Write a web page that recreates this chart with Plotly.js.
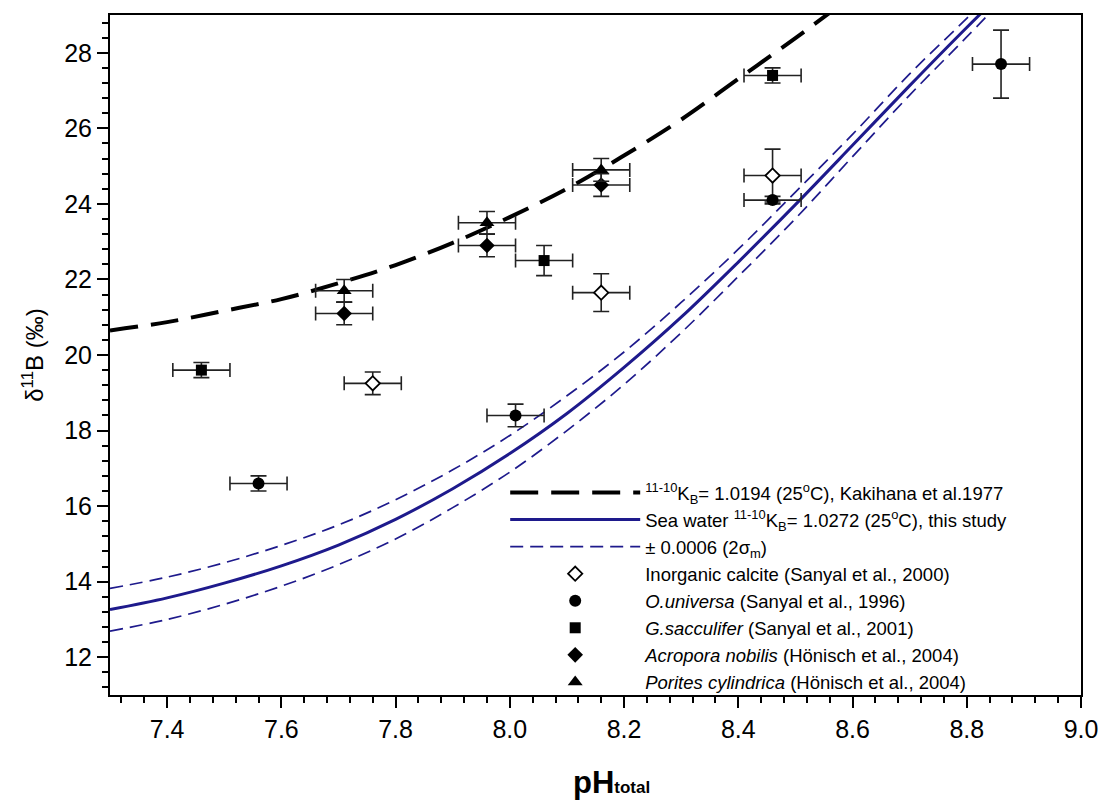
<!DOCTYPE html>
<html>
<head>
<meta charset="utf-8">
<script src="https://cdn.plot.ly/plotly-3.0.1.min.js"></script>
<style>html,body{margin:0;padding:0;background:#fff;}#chart{width:1102px;height:802px;}</style>
</head>
<body>
<div id="chart"></div>
<script>
// ---- data ----
const curvePH = [7.3,7.4,7.5,7.6,7.7,7.8,7.9,8.0,8.1,8.2,8.3,8.4,8.5,8.6,8.7,8.8,8.9];
const kakihanaPH = [7.3,7.4,7.5,7.6,7.7,7.8,7.9,8.0,8.1,8.2,8.3,8.4,8.5,8.6];
const kakihanaD11B = [20.65,20.87,21.17,21.48,21.90,22.38,22.97,23.65,24.40,25.28,26.23,27.31,28.39,29.51];
const seawaterD11B = [13.26,13.57,13.96,14.42,14.97,15.65,16.46,17.39,18.45,19.67,21.00,22.46,23.98,25.55,27.13,28.67,30.15];
const upperD11B = [13.82,14.12,14.50,14.96,15.50,16.17,16.96,17.87,18.92,20.08,21.39,22.80,24.31,25.84,27.44,28.91,30.40];
const lowerD11B = [12.69,13.00,13.40,13.88,14.45,15.13,15.96,16.90,18.00,19.22,20.59,22.08,23.61,25.25,26.88,28.42,29.99];

const calcitePH = [7.76, 8.16, 8.46];
const calciteD11B = [19.25, 21.65, 24.75];
const calciteYErr = [0.3, 0.5, 0.7];
const calciteXErr = [0.05, 0.05, 0.05];

const universaPH = [7.56, 8.01, 8.46, 8.86];
const universaD11B = [16.6, 18.4, 24.1, 27.7];
const universaYErr = [0.2, 0.3, 0.1, 0.9];
const universaXErr = [0.05, 0.05, 0.05, 0.05];

const sacculiferPH = [7.46, 8.06, 8.46];
const sacculiferD11B = [19.6, 22.5, 27.4];
const sacculiferYErr = [0.2, 0.4, 0.2];
const sacculiferXErr = [0.05, 0.05, 0.05];

const acroporaPH = [7.71, 7.96, 8.16];
const acroporaD11B = [21.1, 22.9, 24.5];
const acroporaYErr = [0.3, 0.3, 0.3];
const acroporaXErr = [0.05, 0.05, 0.05];

const poritesPH = [7.71, 7.96, 8.16];
const poritesD11B = [21.7, 23.5, 24.9];
const poritesYErr = [0.3, 0.3, 0.3];
const poritesXErr = [0.05, 0.05, 0.05];

const legendNames = [
  '<sup>11-10</sup>K<sub>B</sub>= 1.0194 (25<sup>o</sup>C), Kakihana et al.1977',
  'Sea water <sup>11-10</sup>K<sub>B</sub>= 1.0272 (25<sup>o</sup>C), this study',
  '± 0.0006 (2σ<sub>m</sub>)',
  'Inorganic calcite (Sanyal et al., 2000)',
  '<i>O.universa</i> (Sanyal et al., 1996)',
  '<i>G.sacculifer</i> (Sanyal et al., 2001)',
  '<i>Acropora nobilis</i> (Hönisch et al., 2004)',
  '<i>Porites cylindrica</i> (Hönisch et al., 2004)'
];

// ---- styling ----
const NAVY = '#1e1a8c';
const FONT = 'Liberation Sans, Arial, sans-serif';
function errs(ye, xe) {
  return {
    error_y: {type: 'data', array: ye, visible: true, color: '#222', thickness: 1.6, width: 8},
    error_x: {type: 'data', array: xe, visible: true, color: '#222', thickness: 1.6, width: 7}
  };
}

const traces = [
  {x: kakihanaPH, y: kakihanaD11B, mode: 'lines', name: legendNames[0], line: {color: '#000', width: 4, dash: '28px,13px', shape: 'spline'}},
  {x: curvePH, y: seawaterD11B, mode: 'lines', name: legendNames[1], line: {color: NAVY, width: 3, shape: 'spline'}},
  {x: curvePH, y: upperD11B, mode: 'lines', name: legendNames[2], legendgroup: 'sig', line: {color: NAVY, width: 1.7, dash: '13px,7px', shape: 'spline'}},
  {x: curvePH, y: lowerD11B, mode: 'lines', name: legendNames[2], legendgroup: 'sig', showlegend: false, line: {color: NAVY, width: 1.7, dash: '13px,7px', shape: 'spline'}},
  Object.assign({x: calcitePH, y: calciteD11B, mode: 'markers', name: legendNames[3],
    marker: {symbol: 'diamond', size: 11, color: '#fff', line: {color: '#000', width: 1.8}}}, errs(calciteYErr, calciteXErr)),
  Object.assign({x: universaPH, y: universaD11B, mode: 'markers', name: legendNames[4],
    marker: {symbol: 'circle', size: 12, color: '#000'}}, errs(universaYErr, universaXErr)),
  Object.assign({x: sacculiferPH, y: sacculiferD11B, mode: 'markers', name: legendNames[5],
    marker: {symbol: 'square', size: 11, color: '#000'}}, errs(sacculiferYErr, sacculiferXErr)),
  Object.assign({x: acroporaPH, y: acroporaD11B, mode: 'markers', name: legendNames[6],
    marker: {symbol: 'diamond', size: 12, color: '#000'}}, errs(acroporaYErr, acroporaXErr)),
  Object.assign({x: poritesPH, y: poritesD11B, mode: 'markers', name: legendNames[7],
    marker: {symbol: 'triangle-up', size: 13, color: '#000'}}, errs(poritesYErr, poritesXErr))
];

const layout = {
  width: 1102, height: 802,
  margin: {l: 110, r: 21, t: 15, b: 107},
  paper_bgcolor: '#fff', plot_bgcolor: '#fff',
  font: {family: FONT, color: '#000'},
  showlegend: true,
  legend: {
    x: 0.407, y: 0.325, xanchor: 'left', yanchor: 'top',
    bgcolor: 'rgba(0,0,0,0)', borderwidth: 0,
    font: {family: FONT, size: 18.5, color: '#000'},
    itemwidth: 130, tracegroupgap: 0, traceorder: 'normal'
  },
  xaxis: {
    range: [7.3, 9.0], dtick: 0.2, tick0: 7.4, tickformat: '.1f',
    showgrid: false, zeroline: false,
    showline: true, linecolor: '#000', linewidth: 2, mirror: true,
    ticks: 'outside', ticklen: 11, tickwidth: 2, tickcolor: '#000',
    tickfont: {family: FONT, size: 25, color: '#000'},
    minor: {dtick: 0.04, ticks: 'outside', ticklen: 6, tickwidth: 2, tickcolor: '#000', showgrid: false}
  },
  yaxis: {
    range: [11, 29], dtick: 2, tick0: 12,
    showgrid: false, zeroline: false,
    showline: true, linecolor: '#000', linewidth: 2, mirror: true,
    ticks: 'outside', ticklen: 11, tickwidth: 2, tickcolor: '#000',
    tickfont: {family: FONT, size: 25, color: '#000'},
    minor: {dtick: 0.4, ticks: 'outside', ticklen: 6, tickwidth: 2, tickcolor: '#000', showgrid: false},
    title: {text: 'δ<sup>11</sup>B (‰)', font: {family: FONT, size: 24, color: '#000'}, standoff: 14}
  },
  annotations: [{
    xref: 'paper', yref: 'paper', x: 0.516, y: -0.128, xanchor: 'center', yanchor: 'middle',
    showarrow: false,
    text: '<b>pH<span style="font-size:17px">total</span></b>',
    font: {family: FONT, size: 31, color: '#000'}
  }]
};

Plotly.newPlot('chart', traces, layout, {displayModeBar: false, staticPlot: true});
</script>
</body>
</html>
